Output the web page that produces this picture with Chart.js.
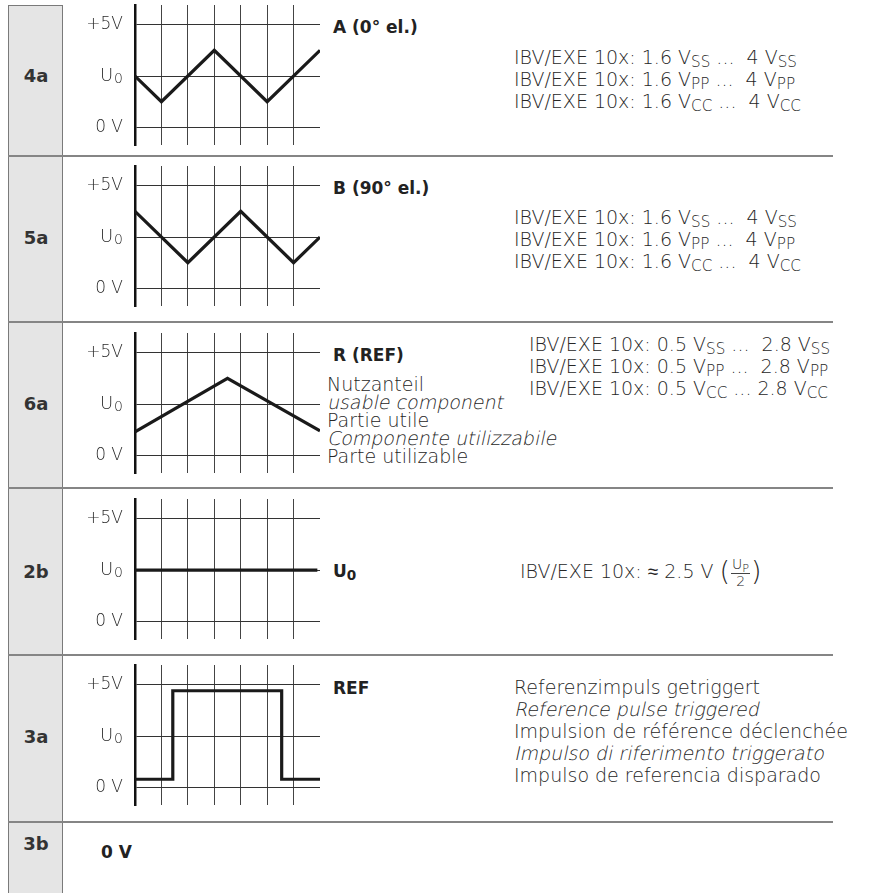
<!DOCTYPE html>
<html>
<head>
<meta charset="utf-8">
<script src="https://cdn.jsdelivr.net/npm/chart.js@4.4.1/dist/chart.umd.min.js"></script>
<style>
body { margin: 0; background: #fff; }
#page { position: relative; width: 875px; height: 893px; overflow: hidden; font-family: "DejaVu Sans", sans-serif; color: #262626; }
.col { position: absolute; left: 8px; top: 5px; width: 53px; height: 900px; background: #e5e5e5; border: 1.5px solid #7a7a7a; border-bottom: none; }
.sep { position: absolute; left: 8px; width: 825px; height: 2px; background: #858585; }
.row { position: absolute; left: 9px; width: 54px; text-align: center; font-weight: bold; font-size: 18px; line-height: 20px; color: #333; }
canvas { position: absolute; }
.t { position: absolute; font-size: 19px; line-height: 22px; white-space: pre; font-weight: 200; }
.it { display: inline-block; transform: skewX(-12deg); transform-origin: 0 80%; }
.b { position: absolute; font-size: 17px; font-weight: bold; line-height: 20px; color: #222; white-space: pre; }
.s { font-size: 0.8em; position: relative; top: 3px; }
.frac { display: inline-block; vertical-align: middle; text-align: center; font-size: 14px; line-height: 14px; margin: 0 1px; }
.num { display: block; border-bottom: 1px solid #444; padding: 0 1px; }
.par { font-size: 27px; vertical-align: -2px; }
</style>
</head>
<body>
<div id="page">
  <div class="col"></div>
</div>
<script>
// row names and signal names
const rowLabels = ['4a', '5a', '6a', '2b', '3a', '3b'];
const signalNames = ['A (0° el.)', 'B (90° el.)', 'R (REF)', 'U0', 'REF'];

// axes
const yTickValues = [0, 2.5, 5];
const yTickLabels = ['0 V', 'U0', '+5V'];
const xTickValues = [0, 1, 2, 3, 4, 5, 6];

// A (0° el.)
const timeA = [0, 1, 3, 5, 7];
const voltA = [2.5, 1.25, 3.75, 1.25, 3.75];
// B (90° el.)
const timeB = [0, 2, 4, 6, 7];
const voltB = [3.75, 1.25, 3.75, 1.25, 2.5];
// R (REF)
const timeR = [0, 3.5, 7];
const voltR = [1.15, 3.75, 1.2];
// U0
const timeU = [0, 6.9];
const voltU = [2.5, 2.5];
// REF pulse
const timeP = [0, 1.43, 5.55, 7];
const voltP = [0.4, 4.7, 0.4, 0.4];

const page = document.getElementById('page');

// layout
const areaTops = [5, 166, 333, 499, 665];
const sepTops = [155, 321, 487, 654, 821];
const rowCenters = [76, 238, 404, 572, 737, 844];

sepTops.forEach(y => {
    const d = document.createElement('div');
    d.className = 'sep';
    d.style.top = y + 'px';
    page.appendChild(d);
});

rowLabels.forEach((txt, i) => {
    const d = document.createElement('div');
    d.className = 'row';
    d.style.top = (rowCenters[i] - 10) + 'px';
    d.textContent = txt;
    page.appendChild(d);
});

function place(cls, x, yc, html, lh) {
    const d = document.createElement('div');
    d.className = cls;
    d.style.left = x + 'px';
    d.style.top = (yc - lh / 2) + 'px';
    d.innerHTML = html;
    page.appendChild(d);
}

const sub = t => '<span class="s">' + t + '</span>';
const it = t => '<span class="it">' + t + '</span>';

// signal names
const nameCenters = [27, 188, 355, 571, 688];
signalNames.forEach((n, i) => {
    const html = n === 'U0' ? 'U' + sub('0') : n;
    place('b', 333, nameCenters[i], html, 20);
});
place('b', 101, 852, '0 V', 20);

// right hand texts
function ibv(lo, hi, s, gap) {
    return 'IBV/EXE 10x: ' + lo + ' V' + sub(s) + ' ...' + gap + hi + ' V' + sub(s);
}
['SS', 'PP', 'CC'].forEach((s, i) => {
    place('t', 514, 57 + i * 22, ibv('1.6', '4', s, '  '), 22);
    place('t', 514, 217 + i * 22, ibv('1.6', '4', s, '  '), 22);
    place('t', 529, 344 + i * 22, ibv('0.5', '2.8', s, i < 2 ? '  ' : ' '), 22);
});

const usable = ['Nutzanteil', it('usable component'), 'Partie utile', it('Componente utilizzabile'), 'Parte utilizable'];
usable.forEach((t, i) => place('t', 327, 384 + i * 18, t, 22));

place('t', 520, 568, 'IBV/EXE 10x: ≈ 2.5 V <span class="par">(</span><span class="frac"><span class="num">U' + sub('P') + '</span><span>2</span></span><span class="par">)</span>', 22);

const pulseText = ['Referenzimpuls getriggert', it('Reference pulse triggered'), 'Impulsion de référence déclenchée',
    it('Impulso di riferimento triggerato'), 'Impulso de referencia disparado'];
pulseText.forEach((t, i) => place('t', 514, 687 + i * 22, t, 22));

// y labels drawn next to the axis
const voltLabels = {
    id: 'voltLabels',
    afterDraw(chart) {
        const { ctx, chartArea, scales } = chart;
        ctx.save();
        ctx.fillStyle = '#2a2a2a';
        ctx.textBaseline = 'middle';
        ctx.textAlign = 'right';
        const xr = chartArea.left - 12;
        yTickValues.forEach((v, i) => {
            const y = scales.y.getPixelForValue(v);
            const txt = yTickLabels[i];
            if (txt === 'U0') {
                ctx.font = '200 14px "DejaVu Sans"';
                ctx.fillText('0', xr, y + 3);
                const w = ctx.measureText('0').width;
                ctx.font = '200 18px "DejaVu Sans"';
                ctx.fillText('U', xr - w - 1, y);
            } else {
                ctx.font = '200 17px "DejaVu Sans"';
                ctx.fillText(txt, xr, y);
            }
        });
        ctx.restore();
    }
};

function makeChart(idx, xs, ys, stepped) {
    const c = document.createElement('canvas');
    c.width = 272;
    c.height = 148;
    c.style.left = '62px';
    c.style.top = (areaTops[idx] - 4) + 'px';
    page.appendChild(c);
    new Chart(c, {
        type: 'line',
        data: {
            datasets: [{
                data: xs.map((x, i) => ({ x: x, y: ys[i] })),
                borderColor: '#1a1a1a',
                borderWidth: 3.2,
                borderJoinStyle: 'miter',
                pointRadius: 0,
                tension: 0,
                stepped: stepped
            }]
        },
        options: {
            responsive: false,
            animation: false,
            devicePixelRatio: 1,
            events: [],
            layout: { padding: { left: 73, right: 14, top: 4, bottom: 4 } },
            plugins: { legend: { display: false }, tooltip: { enabled: false } },
            scales: {
                x: {
                    type: 'linear', min: 0, max: 7,
                    afterBuildTicks: s => { s.ticks = xTickValues.map(v => ({ value: v })); },
                    ticks: { display: false },
                    grid: { color: '#444', lineWidth: 1, drawTicks: false },
                    border: { display: false }
                },
                y: {
                    type: 'linear', min: -0.85, max: 5.95,
                    afterBuildTicks: s => { s.ticks = yTickValues.map(v => ({ value: v })); },
                    ticks: { display: false },
                    grid: { color: '#333', lineWidth: 1, drawTicks: false },
                    border: { display: true, color: '#111', width: 2.5 }
                }
            }
        },
        plugins: [voltLabels]
    });
}

makeChart(0, timeA, voltA, false);
makeChart(1, timeB, voltB, false);
makeChart(2, timeR, voltR, false);
makeChart(3, timeU, voltU, false);
makeChart(4, timeP, voltP, 'before');
</script>
</body>
</html>
